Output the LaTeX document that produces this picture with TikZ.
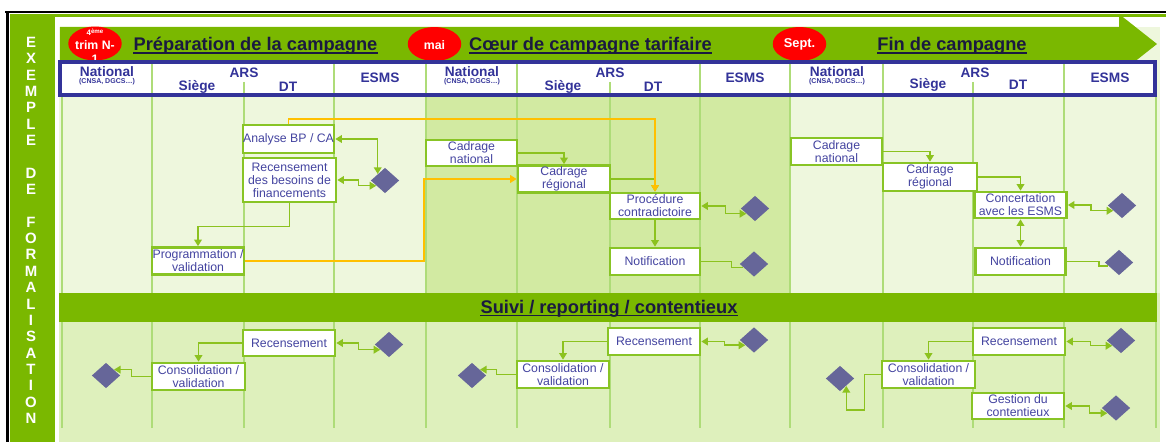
\documentclass[tikz,border=0pt]{standalone}
\usepackage{fontspec}
\setmainfont{Liberation Sans}
\usetikzlibrary{shapes.geometric,arrows.meta,calc}
\definecolor{mgreen}{HTML}{7AB800}
\definecolor{lgreen}{HTML}{EEF7DD}
\definecolor{pgreen}{HTML}{D2EAA2}
\definecolor{lowgreen}{HTML}{DEF0BC}
\definecolor{sepgreen}{HTML}{AEDC78}
\definecolor{boxgreen}{HTML}{88C425}
\definecolor{cgreen}{HTML}{8CC21F}
\definecolor{orangec}{HTML}{FFC000}
\definecolor{diam}{HTML}{666699}
\definecolor{hblue}{HTML}{333399}
\definecolor{btext}{HTML}{4444A0}
\definecolor{ttext}{HTML}{1A1A40}
\definecolor{redc}{HTML}{FF0000}
\begin{document}
\begin{tikzpicture}[x=0.02cm,y=-0.02cm,
  box/.style={draw=boxgreen,line width=1.5pt,fill=white,text=btext,font=\fontsize{7}{7.4}\selectfont,align=center,inner sep=0pt},
  dia/.style={diamond,fill=diam,draw=none,minimum width=0.57cm,minimum height=0.51cm,inner sep=0pt},
  conn/.style={draw=cgreen,line width=0.85pt,-{Triangle[length=3.8pt,width=4.4pt]}},
  dconn/.style={draw=cgreen,line width=0.85pt,{Triangle[length=3.8pt,width=4.4pt]}-{Triangle[length=3.8pt,width=4.4pt]}},
  plain/.style={draw=cgreen,line width=0.85pt},
  oconn/.style={draw=orangec,line width=1.05pt,-{Triangle[length=3.8pt,width=4.4pt]}},
  sep/.style={draw=sepgreen,line width=0.8pt},
  hdr/.style={text=hblue,font=\fontsize{7.8}{9}\bfseries,inner sep=0pt},
  hsmall/.style={text=hblue,font=\fontsize{4}{5}\bfseries,inner sep=0pt},
  ttl/.style={text=ttext,font=\fontsize{10.4}{12}\bfseries,inner sep=0pt,anchor=base},
  redell/.style={ellipse,fill=redc,draw=none,minimum width=1.07cm,minimum height=0.68cm,inner sep=0pt},
  redtxt/.style={text=white,font=\fontsize{7}{8}\bfseries,inner sep=0pt},
  lettr/.style={text=white,font=\fontsize{8.5}{9}\bfseries,inner sep=0pt}
]
\useasboundingbox (0,0) rectangle (1166,442);
\fill[white] (0,0) rectangle (1166,442);
% frame
\draw[black,line width=1.1pt] (5,12) -- (1166,12);
\draw[black,line width=1.7pt] (7.5,11.5) -- (7.5,442);
\fill[mgreen] (10,14.5) rectangle (55,442);
\fill[mgreen] (10,14.5) rectangle (1166,17);
\foreach \l/\i in {E/0,X/1,E/2,M/3,P/4,L/5,E/6,D/8,E/9,F/11,O/12,R/13,M/14,A/15,L/16,I/17,S/18,A/19,T/20,I/21,O/22,N/23}
  \node[lettr] (L\i) at (31,{42.3+16.35*\i}) {\l};
% backgrounds
\fill[lgreen] (59,27) rectangle (426,293);
\fill[pgreen] (426,60) rectangle (790,293);
\fill[lgreen] (790,27) rectangle (1160,293);
\fill[lowgreen] (59,293) rectangle (1160,442);
% banner arrow
\fill[mgreen] (60,27) -- (1119,27) -- (1119,14) -- (1157,44) -- (1119,74) -- (1119,60) -- (60,60) -- cycle;
% red ellipses
\node[redell] (e1) at (95,43.5) {};
\node[redtxt,font=\fontsize{4.5}{5}\bfseries] (e1a) at (95,32) {4\raisebox{1.2pt}{\fontsize{3.5}{4}\selectfont ème}};
\node[redtxt] (e1b) at (95,45) {trim N-};
\node[redtxt] (e1c) at (95,59) {1};
\node[redell] (e2) at (434.5,44) {};
\node[redtxt] (e2a) at (434.5,45) {mai};
\node[redell] (e3) at (799.5,44) {};
\node[redtxt,font=\fontsize{7.3}{8}\bfseries] (e3a) at (799.5,44.5) {Sept.};
% titles
\node[ttl] (t1) at (255.5,50.5) {Préparation de la campagne};
\node[ttl] (t2) at (590.5,50.5) {Cœur de campagne tarifaire};
\node[ttl] (t3) at (952,50.5) {Fin de campagne};
\foreach \t in {t1,t2,t3}
  \draw[ttext,line width=0.9pt] ([yshift=-1.4pt]\t.base west) -- ([yshift=-1.4pt]\t.base east);
% header
\fill[white] (60,62) rectangle (1155,95);
\foreach \x in {152,334,426,517,700,790,883,1064} \draw[sep] (\x,62) -- (\x,428);
\foreach \x in {244,610,973} \draw[sep] (\x,82) -- (\x,428);
\foreach \x in {62,1156} \draw[sep] (\x,97) -- (\x,428);
\draw[hblue,line width=2.2pt] (60,62) rectangle (1155,95);
% header texts
\node[hdr] (hn1) at (107,72) {National};
\node[hsmall] (hc1) at (107,81.5) {(CNSA, DGCS…)};
\node[hdr] (ha1) at (244,73) {ARS};
\node[hdr] (hs1) at (197,87) {Siège};
\node[hdr] (hd1) at (288,87) {DT};
\node[hdr] (he1) at (380,78) {ESMS};
\node[hdr] (hn2) at (472,72) {National};
\node[hsmall] (hc2) at (472,81.5) {(CNSA, DGCS…)};
\node[hdr] (ha2) at (610,73) {ARS};
\node[hdr] (hs2) at (563,87) {Siège};
\node[hdr] (hd2) at (653,87) {DT};
\node[hdr] (he2) at (745,78) {ESMS};
\node[hdr] (hn3) at (837,72) {National};
\node[hsmall] (hc3) at (837,81.5) {(CNSA, DGCS…)};
\node[hdr] (ha3) at (975,73) {ARS};
\node[hdr] (hs3) at (928,85) {Siège};
\node[hdr] (hd3) at (1018,85) {DT};
\node[hdr] (he3) at (1110,78) {ESMS};
% suivi band
\fill[mgreen] (59,293) rectangle (1157,322);
\node[ttl] (t4) at (609,313) {Suivi / reporting / contentieux};
\draw[ttext,line width=0.9pt] ([yshift=-1.4pt]t4.base west) -- ([yshift=-1.4pt]t4.base east);
% boxes upper
\node[box,minimum width=1.82cm,minimum height=0.56cm] (anBP) at (288.5,139) {Analyse BP / CA};
\node[box,minimum width=1.86cm,minimum height=0.88cm] (recB) at (289.5,180) {Recensement\\des besoins de\\financements};
\node[box,minimum width=1.84cm,minimum height=0.54cm] (prog) at (198,261) {Programmation /\\validation};
\node[box,minimum width=1.82cm,minimum height=0.52cm] (cnat2) at (471.5,153) {Cadrage\\national};
\node[box,minimum width=1.84cm,minimum height=0.54cm] (creg2) at (564,179) {Cadrage\\régional};
\node[box,minimum width=1.80cm,minimum height=0.52cm] (proc) at (655,206) {Procédure\\contradictoire};
\node[box,minimum width=1.80cm,minimum height=0.54cm] (notif2) at (655,261.5) {Notification};
\node[box,minimum width=1.82cm,minimum height=0.54cm] (cnat3) at (836.5,151.5) {Cadrage\\national};
\node[box,minimum width=1.88cm,minimum height=0.56cm] (creg3) at (930,177) {Cadrage\\régional};
\node[box,minimum width=1.84cm,minimum height=0.52cm] (conc) at (1020.5,205) {Concertation\\avec les ESMS};
\node[box,minimum width=1.80cm,minimum height=0.54cm] (notif3) at (1020.5,261.5) {Notification};
% boxes lower
\node[box,minimum width=1.84cm,minimum height=0.52cm] (rec1) at (289,343) {Recensement};
\node[box,minimum width=1.86cm,minimum height=0.54cm] (cons1) at (198.5,376.5) {Consolidation /\\validation};
\node[box,minimum width=1.84cm,minimum height=0.54cm] (rec2) at (654,341.5) {Recensement};
\node[box,minimum width=1.84cm,minimum height=0.54cm] (cons2) at (563,374.5) {Consolidation /\\validation};
\node[box,minimum width=1.84cm,minimum height=0.54cm] (rec3) at (1019,341.5) {Recensement};
\node[box,minimum width=1.86cm,minimum height=0.54cm] (cons3) at (928.5,374.5) {Consolidation /\\validation};
\node[box,minimum width=1.84cm,minimum height=0.52cm] (gest) at (1018,406) {Gestion du\\contentieux};
% diamonds
\node[dia] (d1) at (385,180.5) {};
\node[dia] (d2) at (755,208.5) {};
\node[dia] (d3) at (754,264) {};
\node[dia] (d4) at (1122,205.5) {};
\node[dia] (d5) at (1119,262.5) {};
\node[dia] (d6) at (389,344.5) {};
\node[dia] (d7) at (106,375.5) {};
\node[dia] (d8) at (754,340) {};
\node[dia] (d9) at (472,375.5) {};
\node[dia] (d10) at (1121,340.5) {};
\node[dia] (d11) at (840,378.5) {};
\node[dia] (d12) at (1116,408) {};
% connectors upper
\draw[dconn] (anBP.east) -| (d1.north west);
\draw[dconn] (recB.east) -- ++(21,0) |- ($(d1.west)!0.4!(d1.south)$);
\draw[conn] (recB.south) -- ++(0,23) -| (prog.north);
\draw[oconn] (prog.east) -- ++(179,0) |- (creg2.west);
\draw[conn] (cnat2.east) -| (creg2.north);
\draw[conn] (creg2.east) -| (proc.north);
\draw[oconn] (anBP.north) -- ++(0,-5) -| (proc.north);
\draw[dconn] (proc.east) -- ++(24,0) |- ($(d2.west)!0.4!(d2.south)$);
\draw[conn] (proc.south) -- (notif2.north);
\draw[plain] (notif2.east) -- ++(30,0) |- ($(d3.west)!0.25!(d3.south)$);
\draw[conn] (cnat3.east) -| (creg3.north);
\draw[conn] (creg3.east) -| (conc.north);
\draw[dconn] (conc.east) -- ++(23,0) |- ($(d4.west)!0.4!(d4.south)$);
\draw[dconn] (conc.south) -- (notif3.north);
\draw[plain] (notif3.east) -- ++(32,0) |- ($(d5.west)!0.25!(d5.south)$);
% connectors lower
\draw[dconn] (rec1.east) -- ++(22,0) |- ($(d6.west)!0.4!(d6.south)$);
\draw[conn] (rec1.west) -| (cons1.north);
\draw[conn] (cons1.west) -- ++(-19,0) |- ($(d7.east)!0.45!(d7.north)$);
\draw[dconn] (rec2.east) -- ++(23,0) |- ($(d8.west)!0.4!(d8.south)$);
\draw[conn] (rec2.west) -| (cons2.north);
\draw[conn] (cons2.west) -- ++(-19,0) |- ($(d9.east)!0.45!(d9.north)$);
\draw[dconn] (rec3.east) -- ++(24,0) |- ($(d10.west)!0.4!(d10.south)$);
\draw[conn] (rec3.west) -| (cons3.north);
\draw[conn] (cons3.west) -- ++(-16,0) -- ++(0,35.5) -| ($(d11.south)!0.43!(d11.east)$);
\draw[dconn] (gest.east) -- ++(24,0) |- ($(d12.west)!0.4!(d12.south)$);
\end{tikzpicture}
\end{document}
